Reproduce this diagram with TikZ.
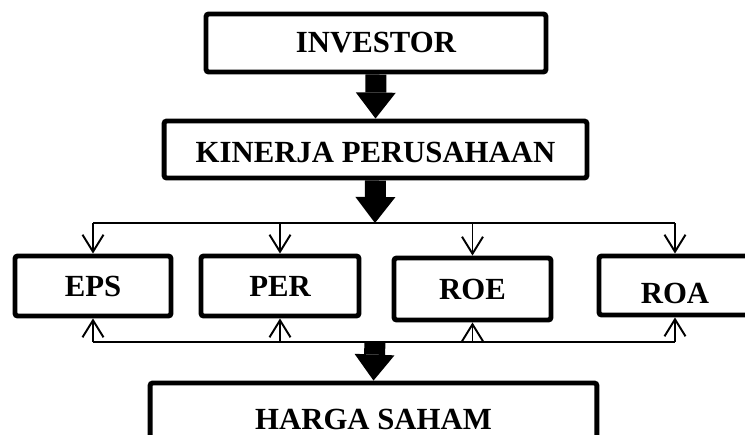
\documentclass[tikz,border=0pt]{standalone}
\usepackage{fontspec}
\setmainfont{Liberation Serif}
\usetikzlibrary{arrows.meta}
\tikzset{
  box/.style={draw, line width=2.8pt, rounded corners=1.5pt, inner sep=0pt,
    font=\fontsize{17.5}{21}\selectfont\bfseries},
  bigarrow/.style={line width=0.42cm, -{Triangle[length=0.52cm, width=0.8cm, line width=0pt]}},
  thinarrow/.style={line width=1.1pt, -{Straight Barb[length=0.34cm, width=0.42cm]}},
}
\begin{document}
\begin{tikzpicture}[x=0.02cm, y=-0.02cm]
    \useasboundingbox (0, 0) rectangle (745, 434);
    \node[box, minimum width=6.8cm, minimum height=1.16cm] (investor) at (376, 43) {INVESTOR};
    \node[box, minimum width=8.46cm, minimum height=1.14cm, text height=0.53cm, text depth=0cm] (kinerja) at (375.5, 149.5) {KINERJA PERUSAHAAN};
    \node[box, minimum width=3.12cm, minimum height=1.2cm] (eps) at (93, 286) {EPS};
    \node[box, minimum width=3.16cm, minimum height=1.2cm] (per) at (280, 286) {PER};
    \node[box, minimum width=3.14cm, minimum height=1.24cm] (roe) at (472.5, 289) {ROE};
    \node[box, minimum width=3.04cm, minimum height=1.18cm, text height=0.73cm, text depth=0cm] (roa) at (675, 285.5) {ROA};
    \node[box, minimum width=8.94cm, minimum height=1.44cm] (harga) at (373.5, 419) {HARGA SAHAM};
    \coordinate (split) at (375, 223);
    \coordinate (merge) at (375, 342);
    \draw[bigarrow] (investor.south) -- (kinerja.north);
    \draw[bigarrow] (kinerja.south) -- (split);
    \draw[line width=1.1pt] (eps.north |- split) -- (roa.north |- split);
    \draw[line width=1.1pt] (eps.south |- merge) -- (roa.south |- merge);
    \foreach \b in {eps, per, roe, roa} {
      \draw[thinarrow] (\b.north |- split) -- (\b.north);
      \draw[thinarrow] (\b.south |- merge) -- (\b.south);
    }
    \draw[bigarrow] (merge) -- (harga.north);
  \end{tikzpicture}
\end{document}
